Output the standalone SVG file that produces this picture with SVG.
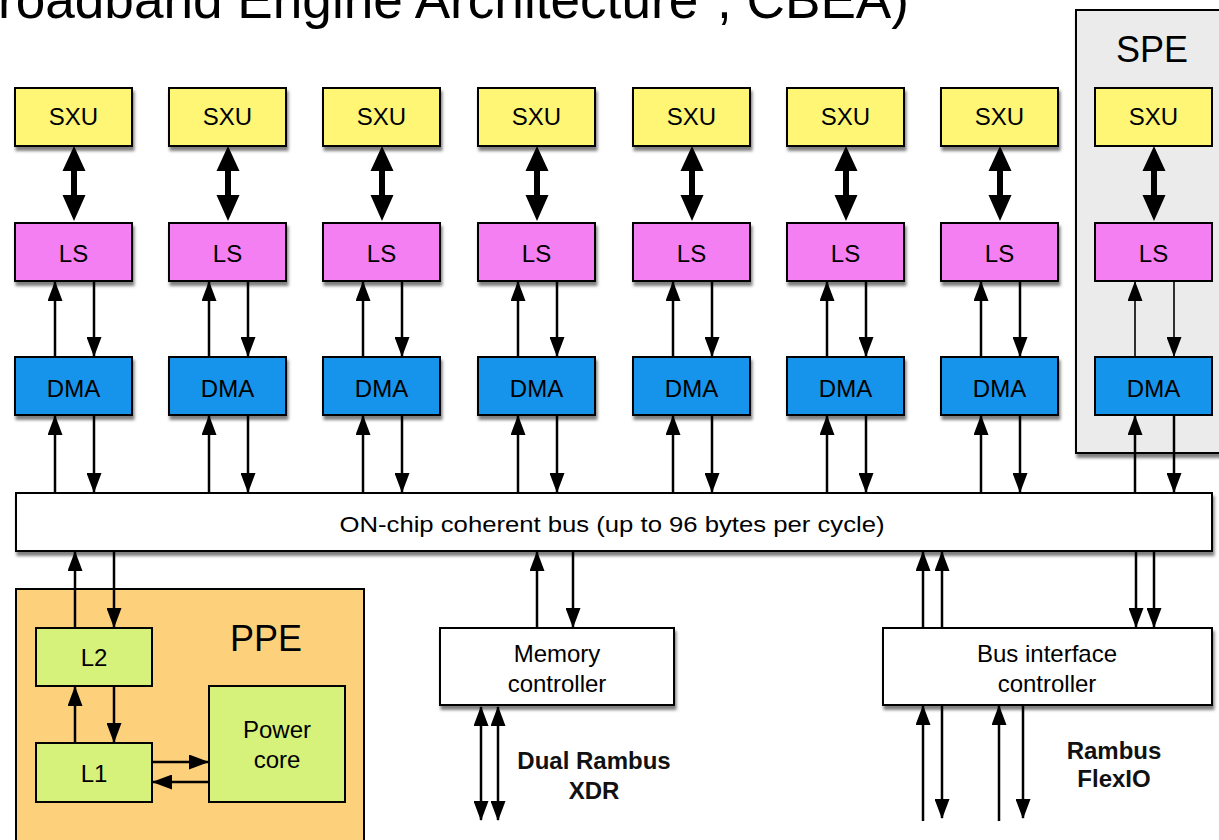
<svg xmlns="http://www.w3.org/2000/svg" width="1219" height="840" viewBox="0 0 1219 840">
  <style>
    text { font-family: "Liberation Sans", Arial, sans-serif; fill: #000; }
    .lbl { font-size: 24px; text-anchor: middle; }
    .big { font-size: 36px; text-anchor: middle; }
    .bold { font-size: 24px; font-weight: bold; text-anchor: middle; fill: #111; }
    .box { stroke: #000; stroke-width: 2; }
    .sxu { fill: #fff676; }
    .ls { fill: #f47ff2; }
    .dma { fill: #1594ec; }
    .white { fill: #fff; }
    .green { fill: #d7f27b; }
    .wire { stroke: #000; stroke-width: 2.5; fill: none; marker-end: url(#ah); }
    .thin { stroke-width: 1.6; }
    .both { marker-start: url(#ah); }
    .fat { fill: #000; }
  </style>
  <defs>
    <filter id="sh" x="-5%" y="-10%" width="115%" height="140%">
      <feDropShadow dx="1.5" dy="4" stdDeviation="1.8" flood-color="#000" flood-opacity="0.5"/>
    </filter>
    <marker id="ah" viewBox="0 0 20 15" refX="19" refY="7.5" markerWidth="20" markerHeight="15" markerUnits="userSpaceOnUse" orient="auto-start-reverse">
      <path d="M0,0 L20,7.5 L0,15 z" fill="#000"/>
    </marker>
  </defs>

  <rect width="1219" height="840" fill="#fff"/>

  <!-- heading, clipped by the top edge -->
  <text x="-2" y="18" font-size="53" textLength="911" lengthAdjust="spacingAndGlyphs">roadband Engine Architecture", CBEA)</text>

  <!-- SPE enclosure -->
  <g id="spe">
    <rect x="1076" y="10" width="170" height="443" fill="#ebebeb" class="box" filter="url(#sh)"/>
    <text class="big" x="1152" y="62">SPE</text>
  </g>

  <!-- PPE enclosure -->
  <g id="ppe">
    <rect x="16" y="589" width="348" height="270" fill="#fdd17b" class="box"/>
    <text class="big" x="266" y="651">PPE</text>
  </g>

  <!-- SXU row -->
  <g id="sxu0"><rect class="box sxu" x="15" y="88" width="117" height="58" filter="url(#sh)"/><text class="lbl" x="73.5" y="125">SXU</text></g>
  <g id="sxu1"><rect class="box sxu" x="169" y="88" width="117" height="58" filter="url(#sh)"/><text class="lbl" x="227.5" y="125">SXU</text></g>
  <g id="sxu2"><rect class="box sxu" x="323" y="88" width="117" height="58" filter="url(#sh)"/><text class="lbl" x="381.5" y="125">SXU</text></g>
  <g id="sxu3"><rect class="box sxu" x="478" y="88" width="117" height="58" filter="url(#sh)"/><text class="lbl" x="536.5" y="125">SXU</text></g>
  <g id="sxu4"><rect class="box sxu" x="633" y="88" width="117" height="58" filter="url(#sh)"/><text class="lbl" x="691.5" y="125">SXU</text></g>
  <g id="sxu5"><rect class="box sxu" x="787" y="88" width="117" height="58" filter="url(#sh)"/><text class="lbl" x="845.5" y="125">SXU</text></g>
  <g id="sxu6"><rect class="box sxu" x="941" y="88" width="117" height="58" filter="url(#sh)"/><text class="lbl" x="999.5" y="125">SXU</text></g>
  <g id="sxu7"><rect class="box sxu" x="1095" y="88" width="117" height="58"/><text class="lbl" x="1153.5" y="125">SXU</text></g>

  <!-- LS row -->
  <g id="ls0"><rect class="box ls" x="15" y="223" width="117" height="58" filter="url(#sh)"/><text class="lbl" x="73.5" y="262">LS</text></g>
  <g id="ls1"><rect class="box ls" x="169" y="223" width="117" height="58" filter="url(#sh)"/><text class="lbl" x="227.5" y="262">LS</text></g>
  <g id="ls2"><rect class="box ls" x="323" y="223" width="117" height="58" filter="url(#sh)"/><text class="lbl" x="381.5" y="262">LS</text></g>
  <g id="ls3"><rect class="box ls" x="478" y="223" width="117" height="58" filter="url(#sh)"/><text class="lbl" x="536.5" y="262">LS</text></g>
  <g id="ls4"><rect class="box ls" x="633" y="223" width="117" height="58" filter="url(#sh)"/><text class="lbl" x="691.5" y="262">LS</text></g>
  <g id="ls5"><rect class="box ls" x="787" y="223" width="117" height="58" filter="url(#sh)"/><text class="lbl" x="845.5" y="262">LS</text></g>
  <g id="ls6"><rect class="box ls" x="941" y="223" width="117" height="58" filter="url(#sh)"/><text class="lbl" x="999.5" y="262">LS</text></g>
  <g id="ls7"><rect class="box ls" x="1095" y="223" width="117" height="58"/><text class="lbl" x="1153.5" y="262">LS</text></g>

  <!-- DMA row -->
  <g id="dma0"><rect class="box dma" x="15" y="357" width="117" height="58" filter="url(#sh)"/><text class="lbl" x="73.5" y="397">DMA</text></g>
  <g id="dma1"><rect class="box dma" x="169" y="357" width="117" height="58" filter="url(#sh)"/><text class="lbl" x="227.5" y="397">DMA</text></g>
  <g id="dma2"><rect class="box dma" x="323" y="357" width="117" height="58" filter="url(#sh)"/><text class="lbl" x="381.5" y="397">DMA</text></g>
  <g id="dma3"><rect class="box dma" x="478" y="357" width="117" height="58" filter="url(#sh)"/><text class="lbl" x="536.5" y="397">DMA</text></g>
  <g id="dma4"><rect class="box dma" x="633" y="357" width="117" height="58" filter="url(#sh)"/><text class="lbl" x="691.5" y="397">DMA</text></g>
  <g id="dma5"><rect class="box dma" x="787" y="357" width="117" height="58" filter="url(#sh)"/><text class="lbl" x="845.5" y="397">DMA</text></g>
  <g id="dma6"><rect class="box dma" x="941" y="357" width="117" height="58" filter="url(#sh)"/><text class="lbl" x="999.5" y="397">DMA</text></g>
  <g id="dma7"><rect class="box dma" x="1095" y="357" width="117" height="58"/><text class="lbl" x="1153.5" y="397">DMA</text></g>

  <!-- shared bus -->
  <g id="bus">
    <rect class="box white" x="16" y="493" width="1196" height="58" filter="url(#sh)"/>
    <text x="612" y="532" font-size="22" text-anchor="middle" textLength="545" lengthAdjust="spacingAndGlyphs">ON-chip coherent bus (up to 96 bytes per cycle)</text>
  </g>

  <!-- PPE internals -->
  <g id="l2"><rect class="box green" x="36" y="628" width="116" height="58"/><text class="lbl" x="94" y="666" font-size="23">L2</text></g>
  <g id="l1"><rect class="box green" x="36" y="743" width="116" height="59"/><text class="lbl" x="94" y="782" font-size="23">L1</text></g>
  <g id="powercore"><rect class="box green" x="209" y="686" width="136" height="116"/><text class="lbl" x="277" y="738" font-size="23">Power</text><text class="lbl" x="277" y="768" font-size="23">core</text></g>

  <!-- controllers -->
  <g id="memctrl">
    <rect class="box white" x="440" y="628" width="234" height="77" filter="url(#sh)"/>
    <text class="lbl" x="557" y="662" fill="#222">Memory</text>
    <text class="lbl" x="557" y="692" fill="#222">controller</text>
  </g>
  <g id="bic">
    <rect class="box white" x="883" y="628" width="329" height="77" filter="url(#sh)"/>
    <text class="lbl" x="1047" y="662">Bus interface</text>
    <text class="lbl" x="1047" y="692">controller</text>
  </g>

  <!-- external interface labels -->
  <g id="xdr"><text class="bold" x="594" y="769">Dual Rambus</text><text class="bold" x="594" y="799">XDR</text></g>
  <g id="flexio"><text class="bold" x="1114" y="759">Rambus</text><text class="bold" x="1114" y="787">FlexIO</text></g>

  <g id="connectors">
    <!-- SXU <-> LS wide double arrows -->
    <g class="fat">
      <path d="M74,146 L85.5,171 L77,171 L77,195 L85.5,195 L74,221 L62.5,195 L71,195 L71,171 L62.5,171 Z"/>
      <path d="M228,146 L239.5,171 L231,171 L231,195 L239.5,195 L228,221 L216.5,195 L225,195 L225,171 L216.5,171 Z"/>
      <path d="M382,146 L393.5,171 L385,171 L385,195 L393.5,195 L382,221 L370.5,195 L379,195 L379,171 L370.5,171 Z"/>
      <path d="M537,146 L548.5,171 L540,171 L540,195 L548.5,195 L537,221 L525.5,195 L534,195 L534,171 L525.5,171 Z"/>
      <path d="M692,146 L703.5,171 L695,171 L695,195 L703.5,195 L692,221 L680.5,195 L689,195 L689,171 L680.5,171 Z"/>
      <path d="M846,146 L857.5,171 L849,171 L849,195 L857.5,195 L846,221 L834.5,195 L843,195 L843,171 L834.5,171 Z"/>
      <path d="M1000,146 L1011.5,171 L1003,171 L1003,195 L1011.5,195 L1000,221 L988.5,195 L997,195 L997,171 L988.5,171 Z"/>
      <path d="M1154,146 L1165.5,171 L1157,171 L1157,195 L1165.5,195 L1154,221 L1142.5,195 L1151,195 L1151,171 L1142.5,171 Z"/>
    </g>

    <!-- LS <-> DMA -->
    <line class="wire" x1="55" y1="357" x2="55" y2="282"/><line class="wire" x1="94" y1="281" x2="94" y2="356"/>
    <line class="wire" x1="209" y1="357" x2="209" y2="282"/><line class="wire" x1="248" y1="281" x2="248" y2="356"/>
    <line class="wire" x1="363" y1="357" x2="363" y2="282"/><line class="wire" x1="402" y1="281" x2="402" y2="356"/>
    <line class="wire" x1="518" y1="357" x2="518" y2="282"/><line class="wire" x1="557" y1="281" x2="557" y2="356"/>
    <line class="wire" x1="673" y1="357" x2="673" y2="282"/><line class="wire" x1="712" y1="281" x2="712" y2="356"/>
    <line class="wire" x1="827" y1="357" x2="827" y2="282"/><line class="wire" x1="866" y1="281" x2="866" y2="356"/>
    <line class="wire" x1="981" y1="357" x2="981" y2="282"/><line class="wire" x1="1020" y1="281" x2="1020" y2="356"/>
    <line class="wire thin" x1="1135" y1="357" x2="1135" y2="282"/><line class="wire thin" x1="1174" y1="281" x2="1174" y2="356"/>

    <!-- DMA <-> bus -->
    <line class="wire" x1="55" y1="493" x2="55" y2="416"/><line class="wire" x1="94" y1="415" x2="94" y2="492"/>
    <line class="wire" x1="209" y1="493" x2="209" y2="416"/><line class="wire" x1="248" y1="415" x2="248" y2="492"/>
    <line class="wire" x1="363" y1="493" x2="363" y2="416"/><line class="wire" x1="402" y1="415" x2="402" y2="492"/>
    <line class="wire" x1="518" y1="493" x2="518" y2="416"/><line class="wire" x1="557" y1="415" x2="557" y2="492"/>
    <line class="wire" x1="673" y1="493" x2="673" y2="416"/><line class="wire" x1="712" y1="415" x2="712" y2="492"/>
    <line class="wire" x1="827" y1="493" x2="827" y2="416"/><line class="wire" x1="866" y1="415" x2="866" y2="492"/>
    <line class="wire" x1="981" y1="493" x2="981" y2="416"/><line class="wire" x1="1020" y1="415" x2="1020" y2="492"/>
    <line class="wire" x1="1135" y1="493" x2="1135" y2="416"/><line class="wire" x1="1174" y1="415" x2="1174" y2="492"/>

    <!-- PPE links -->
    <line class="wire" x1="75" y1="628" x2="75" y2="552"/><line class="wire" x1="114" y1="551" x2="114" y2="627"/>
    <line class="wire" x1="75" y1="743" x2="75" y2="687"/><line class="wire" x1="114" y1="686" x2="114" y2="742"/>
    <line class="wire" x1="152" y1="762" x2="208" y2="762"/><line class="wire" x1="209" y1="782" x2="153" y2="782"/>

    <!-- memory controller links -->
    <line class="wire" x1="537" y1="628" x2="537" y2="552"/><line class="wire" x1="573" y1="551" x2="573" y2="627"/>
    <line class="wire both" x1="481" y1="707" x2="481" y2="820"/><line class="wire both" x1="498" y1="707" x2="498" y2="820"/>

    <!-- bus interface controller links -->
    <line class="wire" x1="923" y1="628" x2="923" y2="552"/><line class="wire" x1="942" y1="628" x2="942" y2="552"/>
    <line class="wire" x1="1136" y1="551" x2="1136" y2="627"/><line class="wire" x1="1154" y1="551" x2="1154" y2="627"/>
    <line class="wire" x1="923" y1="821" x2="923" y2="706"/><line class="wire" x1="942" y1="705" x2="942" y2="818"/>
    <line class="wire" x1="999" y1="821" x2="999" y2="706"/><line class="wire" x1="1023" y1="705" x2="1023" y2="818"/>
  </g>
</svg>
